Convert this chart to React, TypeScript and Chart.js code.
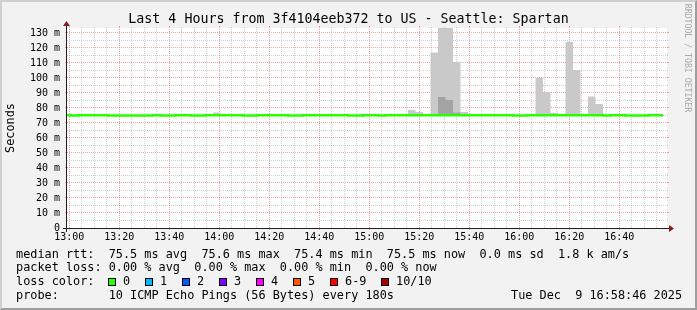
import React, { useEffect, useRef } from "react";
import { Chart, registerables } from "chart.js";

Chart.register(...registerables);

const MONO = '"DejaVu Sans Mono", "Liberation Mono", monospace';

const titleText = "Last 4 Hours from 3f4104eeb372 to US - Seattle: Spartan";
const yAxisTitle = "Seconds";
const watermark = "RRDTOOL / TOBI OETIKER";

// x axis in minutes after 13:00
const xMin = -0.9;
const xMax = 239.1;
const xTickMinutes = [0, 20, 40, 60, 80, 100, 120, 140, 160, 180, 200, 220];
const xTickLabels = ["13:00", "13:20", "13:40", "14:00", "14:20", "14:40", "15:00", "15:20", "15:40", "16:00", "16:20", "16:40"];
const xMinorStep = 5;

// y axis in milliseconds
const yMax = 133.333;
const yTickValues = [0, 10, 20, 30, 40, 50, 60, 70, 80, 90, 100, 110, 120, 130];
const yTickLabels = ["0", "10 m", "20 m", "30 m", "40 m", "50 m", "60 m", "70 m", "80 m", "90 m", "100 m", "110 m", "120 m", "130 m"];
const yMinorStep = 5;

// 180 s measurement slots
const firstSlotStart = -2.5;
const slotMinutes = 3;

const medianRttMs = [
  75.2, 75.0, 75.2, 75.2, 75.2, 75.2, 75.0, 75.0, 75.0, 75.0,
  75.0, 75.0, 75.2, 75.0, 75.0, 75.2, 75.2, 75.0, 75.0, 75.2,
  75.2, 75.2, 75.2, 75.2, 75.0, 75.0, 75.2, 75.2, 75.2, 75.2,
  75.0, 75.0, 75.2, 75.2, 75.2, 75.2, 75.2, 75.2, 75.0, 75.0,
  75.2, 75.2, 75.0, 75.2, 75.2, 75.2, 75.2, 75.2, 75.2, 75.2,
  75.2, 75.2, 75.2, 75.2, 75.2, 75.2, 75.2, 75.2, 75.2, 75.2,
  75.0, 75.0, 75.2, 75.2, 75.2, 75.2, 75.2, 75.2, 75.2, 75.2,
  75.2, 75.2, 75.0, 75.2, 75.2, 75.0, 75.0, 75.0, 75.2, 75.2,
];

// outer smoke (max ping) for slots that show it
const smokeSlots = [20, 46, 47, 49, 50, 51, 52, 53, 63, 64, 65, 67, 68, 70, 71];
const smokeMaxMs = [77.0, 78.7, 77.3, 117.0, 138.0, 138.0, 110.7, 77.3, 100.0, 90.7, 76.9, 124.0, 105.3, 87.6, 82.7];

// inner (denser) smoke
const innerSmokeSlots = [50, 51, 52];
const innerSmokeMaxMs = [87.3, 85.3, 77.0];

const lossLabels = ["0", "1", "2", "3", "4", "5", "6-9", "10/10"];
const lossColors = ["#26ff00", "#00b8ff", "#0059ff", "#7e00ff", "#ff00ff", "#ff5500", "#ff0000", "#a10000"];
const lossBoxX = [108, 145, 182, 219, 256, 293, 330, 381];

const legendRtt = "median rtt:  75.5 ms avg  75.6 ms max  75.4 ms min  75.5 ms now  0.0 ms sd  1.8 k am/s";
const legendLoss = "packet loss: 0.00 % avg  0.00 % max  0.00 % min  0.00 % now";
const legendLossColor = "loss color:";
const legendProbe = "probe:       10 ICMP Echo Pings (56 Bytes) every 180s";
const legendDate = "Tue Dec  9 16:58:46 2025";

function stepSeries(values: number[]) {
  const pts = values.map((v, i) => ({ x: firstSlotStart + i * slotMinutes, y: v }));
  pts.push({ x: firstSlotStart + values.length * slotMinutes, y: values[values.length - 1] });
  return pts;
}

function withOverrides(base: number[], slots: number[], vals: number[]) {
  const out = base.slice();
  slots.forEach((s, j) => {
    out[s] = vals[j];
  });
  return out;
}

const rrdPlugin = {
  id: "rrdFrame",
  beforeDraw(chart: any) {
    const { ctx, chartArea: a } = chart;
    ctx.save();
    ctx.fillStyle = "#ffffff";
    ctx.fillRect(a.left, a.top, a.right - a.left, a.bottom - a.top);
    ctx.restore();
  },
  beforeDatasetsDraw(chart: any) {
    const { ctx, chartArea: a, scales } = chart;
    const xs = scales.x;
    const ys = scales.y;
    const minorCol = "rgba(143,143,143,0.42)";
    const majorCol = "rgba(222,79,79,0.5)";
    ctx.save();
    ctx.lineWidth = 1;
    const vline = (m: number, color: string, ext: number) => {
      const px = Math.floor(xs.getPixelForValue(m)) + 0.5;
      if (px < a.left || px > a.right) return;
      ctx.strokeStyle = color;
      ctx.setLineDash([1, 1]);
      ctx.beginPath();
      ctx.moveTo(px, a.bottom);
      ctx.lineTo(px, a.top);
      ctx.stroke();
      ctx.setLineDash([]);
      ctx.beginPath();
      ctx.moveTo(px, a.bottom);
      ctx.lineTo(px, a.bottom + ext);
      ctx.moveTo(px, a.top);
      ctx.lineTo(px, a.top - ext);
      ctx.stroke();
    };
    const hline = (v: number, color: string, ext: number) => {
      const py = Math.floor(ys.getPixelForValue(v)) + 0.5;
      if (py < a.top || py > a.bottom) return;
      ctx.strokeStyle = color;
      ctx.setLineDash([1, 1]);
      ctx.beginPath();
      ctx.moveTo(a.left, py);
      ctx.lineTo(a.right, py);
      ctx.stroke();
      ctx.setLineDash([]);
      ctx.beginPath();
      ctx.moveTo(a.left, py);
      ctx.lineTo(a.left - ext, py);
      ctx.moveTo(a.right, py);
      ctx.lineTo(a.right + ext, py);
      ctx.stroke();
    };
    for (let m = -xMinorStep; m <= xMax; m += xMinorStep) {
      if (xTickMinutes.indexOf(m) < 0) vline(m, minorCol, 1);
    }
    for (let v = yMinorStep; v <= yMax; v += yMinorStep) {
      if (yTickValues.indexOf(v) < 0) hline(v, minorCol, 1);
    }
    xTickMinutes.forEach((m) => vline(m, majorCol, 2));
    yTickValues.forEach((v) => {
      if (v > 0) hline(v, majorCol, 2);
    });
    ctx.restore();
  },
  afterDatasetsDraw(chart: any) {
    const { ctx, chartArea: a } = chart;
    ctx.save();
    ctx.strokeStyle = "#1f1f1f";
    ctx.lineWidth = 1;
    ctx.setLineDash([]);
    ctx.beginPath();
    ctx.moveTo(a.left - 4, a.bottom + 0.5);
    ctx.lineTo(a.right + 4, a.bottom + 0.5);
    ctx.moveTo(a.left - 0.5, a.bottom + 4);
    ctx.lineTo(a.left - 0.5, a.top - 4);
    ctx.stroke();
    ctx.fillStyle = "#801f1f";
    ctx.beginPath();
    ctx.moveTo(a.right + 2, a.bottom - 3);
    ctx.lineTo(a.right + 2, a.bottom + 4);
    ctx.lineTo(a.right + 7, a.bottom + 0.5);
    ctx.closePath();
    ctx.fill();
    ctx.beginPath();
    ctx.moveTo(a.left - 4, a.top - 2);
    ctx.lineTo(a.left + 3, a.top - 2);
    ctx.lineTo(a.left - 0.5, a.top - 7);
    ctx.closePath();
    ctx.fill();
    ctx.restore();
  },
};

export default function App() {
  const ref = useRef<HTMLCanvasElement>(null);

  useEffect(() => {
    const outer = withOverrides(medianRttMs, smokeSlots, smokeMaxMs);
    const inner = withOverrides(medianRttMs, innerSmokeSlots, innerSmokeMaxMs);
    const chart = new Chart(ref.current as HTMLCanvasElement, {
      type: "line",
      data: {
        datasets: [
          {
            label: "median",
            data: stepSeries(medianRttMs),
            borderColor: "#26ff00",
            borderWidth: 2.6,
            stepped: true,
            pointRadius: 0,
            fill: false,
            clip: 0,
          },
          {
            label: "inner smoke",
            data: stepSeries(inner),
            borderColor: "rgba(0,0,0,0)",
            borderWidth: 0,
            backgroundColor: "#a4a4a4",
            stepped: true,
            pointRadius: 0,
            fill: { target: 0 },
            clip: 0,
          },
          {
            label: "smoke",
            data: stepSeries(outer),
            borderColor: "rgba(0,0,0,0)",
            borderWidth: 0,
            backgroundColor: "#c9c9c9",
            stepped: true,
            pointRadius: 0,
            fill: { target: 0 },
            clip: 0,
          },
        ],
      } as any,
      options: {
        animation: false,
        responsive: false,
        events: [],
        layout: { padding: { left: 0, top: 28, right: 30, bottom: 0 } },
        plugins: {
          legend: { display: false },
          tooltip: { enabled: false },
          title: { display: false },
        },
        scales: {
          x: {
            type: "linear",
            min: xMin,
            max: xMax,
            grid: { display: false, drawTicks: false, tickLength: 0 },
            border: { display: false },
            afterBuildTicks: (scale: any) => {
              scale.ticks = xTickMinutes.map((v) => ({ value: v }));
            },
            afterFit: (scale: any) => {
              scale.height = 82;
            },
            ticks: {
              autoSkip: false,
              maxRotation: 0,
              padding: 3,
              color: "#000000",
              font: { family: MONO, size: 10 },
              callback: (value: any) => xTickLabels[xTickMinutes.indexOf(Number(value))],
            },
          },
          y: {
            type: "linear",
            min: 0,
            max: yMax,
            grid: { display: false, drawTicks: false, tickLength: 0 },
            border: { display: false },
            afterBuildTicks: (scale: any) => {
              scale.ticks = yTickValues.map((v) => ({ value: v }));
            },
            afterFit: (scale: any) => {
              scale.width = 67;
            },
            ticks: {
              autoSkip: false,
              padding: 7,
              color: "#000000",
              font: { family: MONO, size: 10 },
              callback: (value: any) => yTickLabels[yTickValues.indexOf(Number(value))],
            },
          },
        },
      } as any,
      plugins: [rrdPlugin as any],
    });
    return () => chart.destroy();
  }, []);

  const legendSize = 11.85;
  const legendStyle = (top: number, left: number): React.CSSProperties => ({
    position: "absolute",
    left,
    top,
    fontSize: legendSize,
    lineHeight: `${legendSize}px`,
    whiteSpace: "pre",
    color: "#000",
  });

  return (
    <div
      style={{
        position: "absolute",
        left: 0,
        top: 0,
        width: 697,
        height: 310,
        background: "#f2f2f2",
        overflow: "hidden",
        fontFamily: MONO,
      }}
    >
      <canvas ref={ref} width={697} height={310} style={{ position: "absolute", left: 0, top: 0 }} />
      <div
        style={{
          position: "absolute",
          left: 0,
          top: 0,
          width: 697,
          height: 310,
          boxSizing: "border-box",
          borderTop: "2px solid #cfcfcf",
          borderLeft: "2px solid #cfcfcf",
          borderBottom: "2px solid #9e9e9e",
          borderRight: "2px solid #9e9e9e",
          pointerEvents: "none",
        }}
      />
      <div
        style={{
          position: "absolute",
          left: 0,
          top: 12,
          width: 697,
          textAlign: "center",
          fontSize: 13.3,
          lineHeight: "13.3px",
          whiteSpace: "pre",
          color: "#000",
        }}
      >
        {titleText}
      </div>
      <div
        style={{
          position: "absolute",
          left: 11,
          top: 128,
          transform: "translate(-50%, -50%) rotate(-90deg)",
          fontSize: legendSize,
          lineHeight: `${legendSize}px`,
          whiteSpace: "pre",
          color: "#000",
        }}
      >
        {yAxisTitle}
      </div>
      <div
        style={{
          position: "absolute",
          left: 688,
          top: 58,
          transform: "translate(-50%, -50%) rotate(90deg)",
          fontSize: 8.2,
          lineHeight: "8.2px",
          whiteSpace: "pre",
          color: "#a9a9a9",
        }}
      >
        {watermark}
      </div>
      <div style={legendStyle(248.5, 16)}>{legendRtt}</div>
      <div style={legendStyle(262.3, 16)}>{legendLoss}</div>
      <div style={legendStyle(276.3, 16)}>{legendLossColor}</div>
      {lossLabels.map((lab, i) => (
        <React.Fragment key={lab}>
          <div
            style={{
              position: "absolute",
              left: lossBoxX[i],
              top: 278,
              width: 8,
              height: 8,
              boxSizing: "border-box",
              border: "1px solid #000",
              background: lossColors[i],
            }}
          />
          <div style={legendStyle(276.3, lossBoxX[i] + 15)}>{lab}</div>
        </React.Fragment>
      ))}
      <div style={legendStyle(290, 16)}>{legendProbe}</div>
      <div style={legendStyle(290, 511)}>{legendDate}</div>
    </div>
  );
}
